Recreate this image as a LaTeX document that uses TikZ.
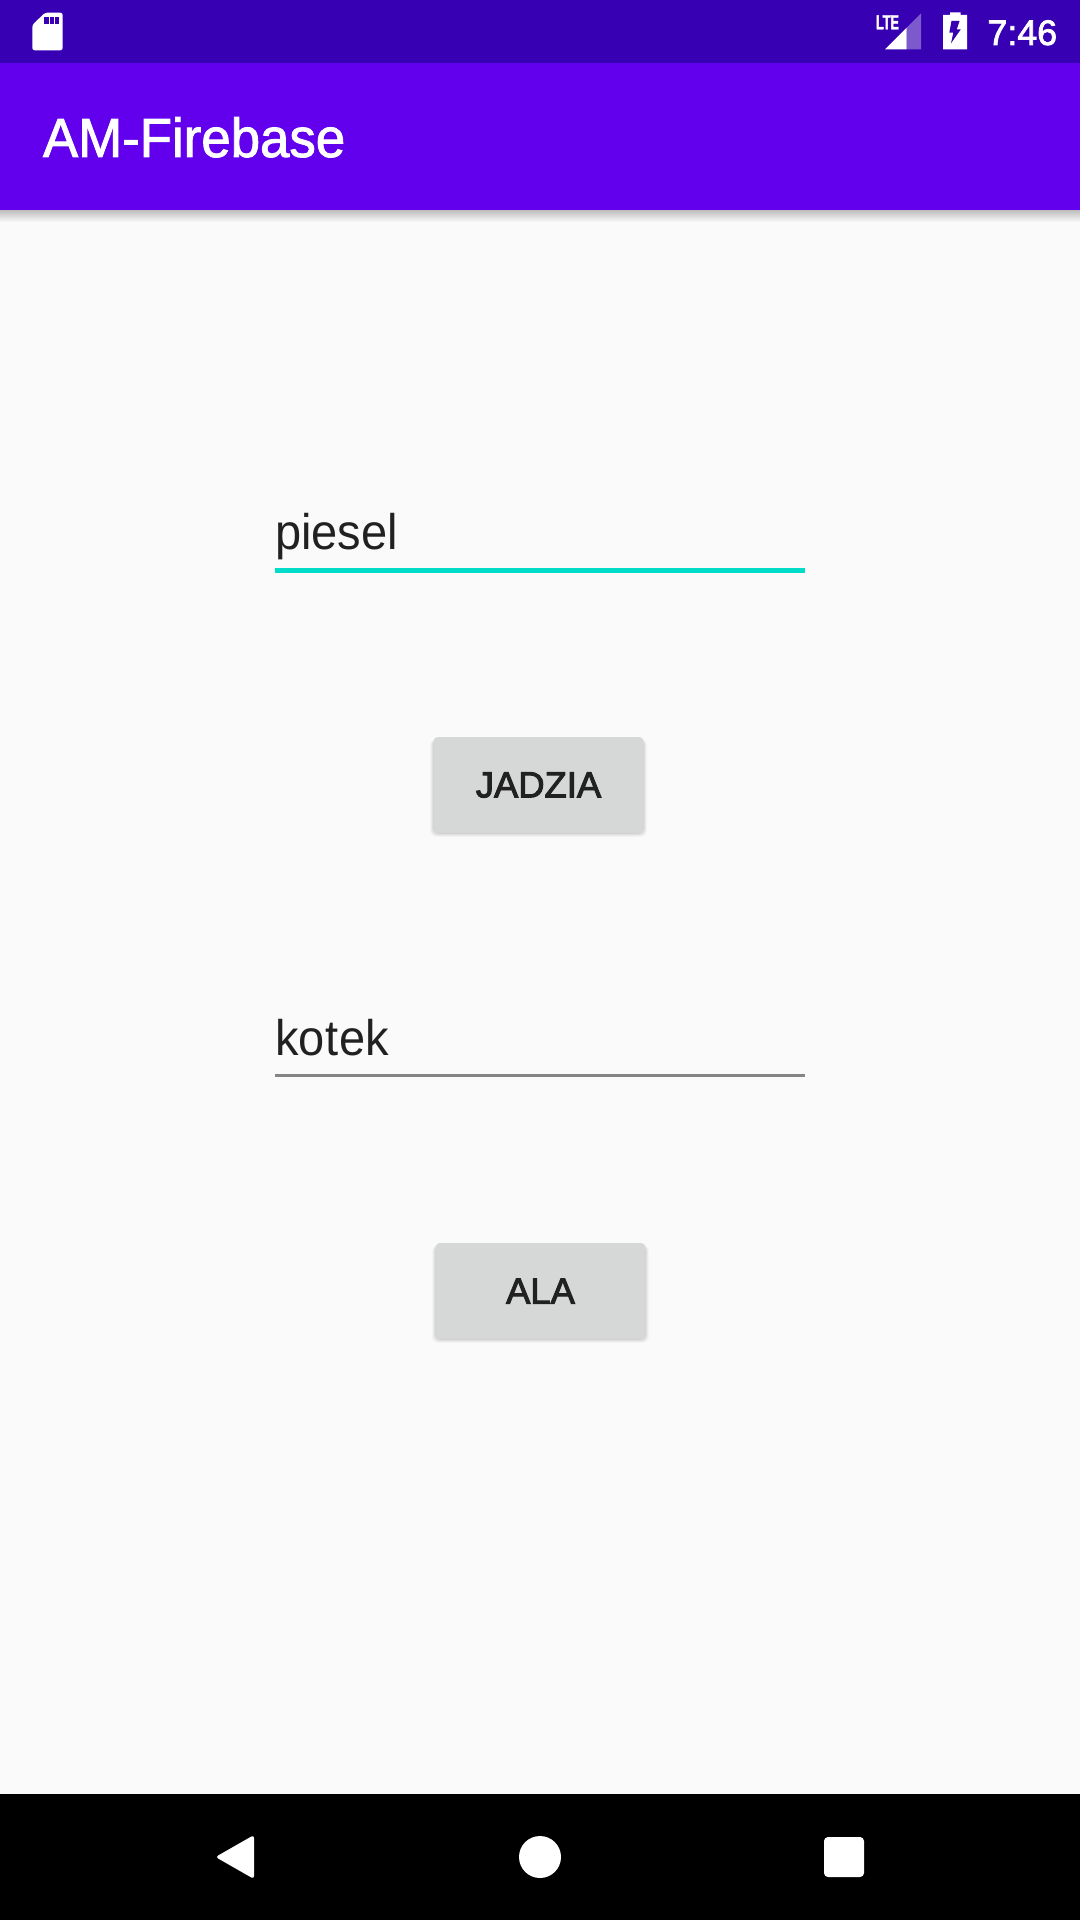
\documentclass[tikz,border=0pt]{standalone}
\usepackage{fontspec}
\setmainfont{Liberation Sans}
\newfontfamily\bodyfont[FakeStretch=0.94]{Liberation Sans}
\newfontfamily\kotekfont[FakeStretch=0.94,LetterSpace=1]{Liberation Sans}
\newfontfamily\titlefont[FakeStretch=0.96,FakeBold=1.6]{Liberation Sans}
\newfontfamily\btnfont[FakeBold=2.6]{Liberation Sans}
\newfontfamily\clockfont[FakeBold=2.2,FakeStretch=1.01]{Liberation Sans}
\newfontfamily\ltefont[FakeStretch=0.62,FakeBold=2]{Liberation Sans Bold}
\definecolor{statusbar}{HTML}{3700B3}
\definecolor{appbar}{HTML}{6200EE}
\definecolor{pagebg}{HTML}{FAFAFA}
\definecolor{accent}{HTML}{00DCC8}
\definecolor{btnface}{HTML}{D6D7D7}
\definecolor{ink}{HTML}{212121}
\definecolor{idleline}{HTML}{858585}
\tikzset{
  txt/.style={anchor=base west,inner sep=0pt,outer sep=0pt},
  btn/.style={fill=btnface,rounded corners=2pt,minimum width=104.8pt,minimum height=48pt,inner sep=0pt,text=ink},
  icon/.style={fill=white,draw=none}
}
\newcommand{\fsz}[1]{\fontsize{#1}{#1}\selectfont}
\begin{document}
\begin{tikzpicture}[x=0.5pt,y=-0.5pt]
\useasboundingbox (0,0) rectangle (1080,1920);
\fill[pagebg] (0,0) rectangle (1080,1920);
% bars
\shade[top color=black!26,bottom color=pagebg] (0,210) rectangle (1080,222);
\fill[appbar] (0,63) rectangle (1080,210);
\fill[statusbar] (0,0) rectangle (1080,63);
\fill[black] (0,1794) rectangle (1080,1920);
% status icons: SD card
\fill[icon,rounded corners=1.2pt] (45,12.7) -- (62.7,12.7) -- (62.7,50.3) -- (32.3,50.3) -- (32.3,25) -- cycle;
\fill[statusbar] (43.7,16.7) rectangle (48.7,24);
\fill[statusbar] (49.6,16.7) rectangle (53.7,24);
\fill[statusbar] (54.7,16.7) rectangle (59,24);
% signal
\fill[white,opacity=.35] (906.7,27.6) -- (921,13.3) -- (921,49.3) -- (906.7,49.3) -- cycle;
\fill[white] (885,49.3) -- (906.7,27.6) -- (906.7,49.3) -- cycle;
\node[txt,text=white] (lte) at (876,29.3) {\ltefont\fsz{10.2}LTE};
% battery
\fill[icon] (943,15) -- (950,15) -- (950,12.3) -- (960.7,12.3) -- (960.7,15) -- (967,15) -- (967,49.3) -- (943,49.3) -- cycle;
\fill[statusbar] (951.5,21) -- (959.5,21) -- (956.7,29.5) -- (960.7,29.5) -- (951,43.3) -- (953.3,32.7) -- (949.3,32.7) -- cycle;
\node[txt,text=white] (clock) at (987.5,45) {\clockfont\fsz{17.7}7:46};
% title
\node[txt,text=white] (title) at (43,157) {\titlefont\fsz{27.5}AM-Firebase};
% first field
\node[txt,text=ink] (piesel) at (275,549) {\bodyfont\fsz{25}piesel};
\fill[accent] (275,568) rectangle (805,573);
% first button
\foreach \s/\o in {4/.025,3/.035,2/.05,0.8/.06}
  \fill[black,opacity=\o,rounded corners=3pt] (434-\s,737+2) rectangle (643+\s,833+\s);
\node[btn] (jadzia) at (538.5,785) {\btnfont\fsz{18.2}JADZIA};
% second field
\node[txt,text=ink] (kotek) at (275,1055) {\kotekfont\fsz{25}kotek};
\fill[idleline] (275,1073.8) rectangle (805,1076.6);
% second button
\foreach \s/\o in {4/.025,3/.035,2/.05,0.8/.06}
  \fill[black,opacity=\o,rounded corners=3pt] (436-\s,1243+2) rectangle (645+\s,1339+\s);
\node[btn] (ala) at (540.5,1291) {\btnfont\fsz{18.2}ALA};
% navigation
\fill[icon,rounded corners=1.5pt] (254,1835) -- (254,1879) -- (215.5,1857) -- cycle;
\fill[icon] (540,1857) circle (21);
\fill[icon,rounded corners=2pt] (824,1837) rectangle (864,1877);
\end{tikzpicture}
\end{document}
